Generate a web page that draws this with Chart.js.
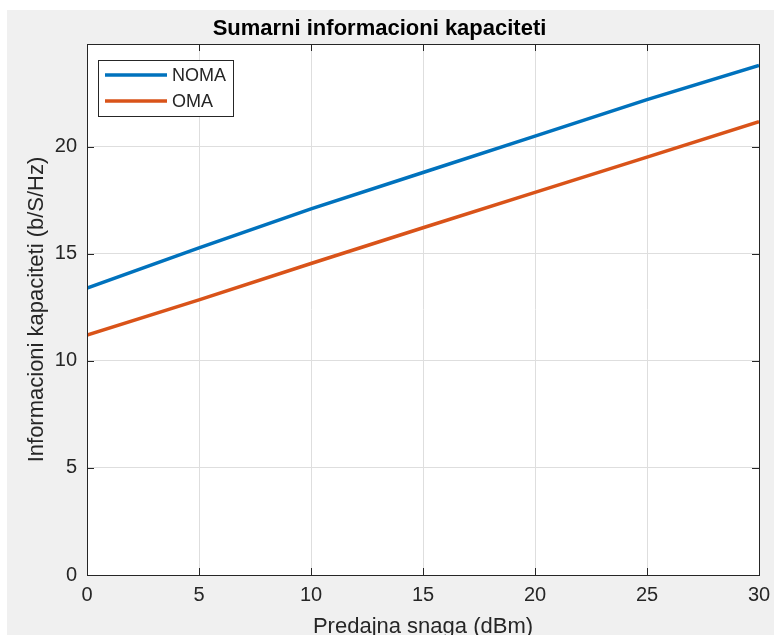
<!DOCTYPE html>
<html>
<head>
<meta charset="utf-8">
<script src="https://cdn.jsdelivr.net/npm/chart.js@4/dist/chart.umd.min.js"></script>
<style>
  html, body { margin: 0; padding: 0; background: #ffffff; }
  #wrap { width: 774px; height: 635px; }
</style>
</head>
<body>
<div id="wrap"><canvas id="c" width="774" height="635"></canvas></div>
<script>
// Transmit power (dBm)
const snaga = [0, 5, 10, 15, 20, 25, 30];
// Sum capacity (b/S/Hz)
const noma = [13.4, 15.28, 17.1, 18.8, 20.5, 22.2, 23.8];
const oma = [11.2, 12.85, 14.55, 16.22, 17.87, 19.52, 21.17];
const xTicks = [0, 5, 10, 15, 20, 25, 30];
const yTicks = [0, 5, 10, 15, 20];
const seriesNames = ['NOMA', 'OMA'];
const seriesColors = ['#0072BD', '#D95319'];

const FONT = 'Arial, "Liberation Sans", Helvetica, sans-serif';
const AXIS_COLOR = '#262626';

// Figure background, axes box, inward tick marks and boxed legend
const figurePlugin = {
  id: 'figure',
  beforeDraw(chart) {
    const { ctx, chartArea: a, width, height } = chart;
    ctx.save();
    ctx.fillStyle = '#ffffff';
    ctx.fillRect(0, 0, width, height);
    ctx.fillStyle = '#f0f0f0';
    ctx.fillRect(7, 10, width - 7, height - 10);
    ctx.fillStyle = '#ffffff';
    ctx.fillRect(a.left, a.top, a.right - a.left, a.bottom - a.top);
    ctx.restore();
  },
  afterDraw(chart) {
    const { ctx, chartArea: a, scales } = chart;
    ctx.save();
    ctx.strokeStyle = AXIS_COLOR;
    ctx.lineWidth = 1;
    const tl = 7;
    ctx.beginPath();
    xTicks.forEach(v => {
      const px = Math.round(scales.x.getPixelForValue(v)) + 0.5;
      ctx.moveTo(px, a.bottom); ctx.lineTo(px, a.bottom - tl);
      ctx.moveTo(px, a.top); ctx.lineTo(px, a.top + tl);
    });
    yTicks.forEach(v => {
      const py = Math.round(scales.y.getPixelForValue(v)) + 0.5;
      ctx.moveTo(a.left, py); ctx.lineTo(a.left + tl, py);
      ctx.moveTo(a.right, py); ctx.lineTo(a.right - tl, py);
    });
    ctx.stroke();
    ctx.strokeRect(Math.round(a.left) + 0.5, Math.round(a.top) + 0.5,
                   Math.round(a.right - a.left), Math.round(a.bottom - a.top));

    // legend box in the upper-left corner of the axes
    const lx = 98, ly = 60, lw = 135, lh = 56;
    ctx.fillStyle = '#ffffff';
    ctx.fillRect(lx, ly, lw, lh);
    ctx.strokeStyle = AXIS_COLOR;
    ctx.strokeRect(lx + 0.5, ly + 0.5, lw, lh);
    ctx.font = '18px ' + FONT;
    ctx.textBaseline = 'middle';
    ctx.textAlign = 'left';
    seriesNames.forEach((name, i) => {
      const yy = ly + 15 + i * 26;
      ctx.strokeStyle = seriesColors[i];
      ctx.lineWidth = 3.5;
      ctx.beginPath();
      ctx.moveTo(lx + 7, yy); ctx.lineTo(lx + 69, yy);
      ctx.stroke();
      ctx.fillStyle = AXIS_COLOR;
      ctx.fillText(name, lx + 74, yy + 1);
    });
    ctx.restore();
  }
};

new Chart(document.getElementById('c'), {
  type: 'line',
  data: {
    datasets: [
      { label: seriesNames[0], data: snaga.map((x, i) => ({ x, y: noma[i] })),
        borderColor: seriesColors[0], borderWidth: 3.5, pointRadius: 0, tension: 0 },
      { label: seriesNames[1], data: snaga.map((x, i) => ({ x, y: oma[i] })),
        borderColor: seriesColors[1], borderWidth: 3.5, pointRadius: 0, tension: 0 }
    ]
  },
  options: {
    responsive: false,
    animation: false,
    layout: { padding: { left: 0, right: 15, top: 0, bottom: 0 } },
    plugins: {
      legend: { display: false },
      tooltip: { enabled: false },
      title: {
        display: true,
        text: 'Sumarni informacioni kapaciteti',
        color: '#000000',
        font: { family: FONT, size: 22, weight: 'bold' },
        padding: { top: 15.5, bottom: 2.1 }
      }
    },
    scales: {
      x: {
        type: 'linear',
        min: 0, max: 30,
        afterFit(s) { s.height = 60; s.paddingLeft = 0; s.paddingRight = 0; },
        afterBuildTicks(s) { s.ticks = xTicks.map(v => ({ value: v })); },
        grid: { color: '#dedede', drawTicks: false },
        border: { color: AXIS_COLOR },
        ticks: { color: AXIS_COLOR, padding: 8, maxRotation: 0,
                 font: { family: FONT, size: 20 } },
        title: { display: true, text: 'Predajna snaga (dBm)', color: AXIS_COLOR,
                 font: { family: FONT, size: 22 }, padding: { top: 0, bottom: -5.6 } }
      },
      y: {
        type: 'linear',
        min: 0, max: 24.8,
        afterFit(s) { s.width = 87; s.paddingTop = 0; s.paddingBottom = 0; },
        afterBuildTicks(s) { s.ticks = yTicks.map(v => ({ value: v })); },
        grid: { color: '#dedede', drawTicks: false },
        border: { color: AXIS_COLOR },
        ticks: { color: AXIS_COLOR, padding: 10,
                 font: { family: FONT, size: 20 } },
        title: { display: true, text: 'Informacioni kapaciteti (b/S/Hz)', color: AXIS_COLOR,
                 font: { family: FONT, size: 22 }, padding: { top: 23.5, bottom: 0 } }
      }
    }
  },
  plugins: [figurePlugin]
});
</script>
</body>
</html>
